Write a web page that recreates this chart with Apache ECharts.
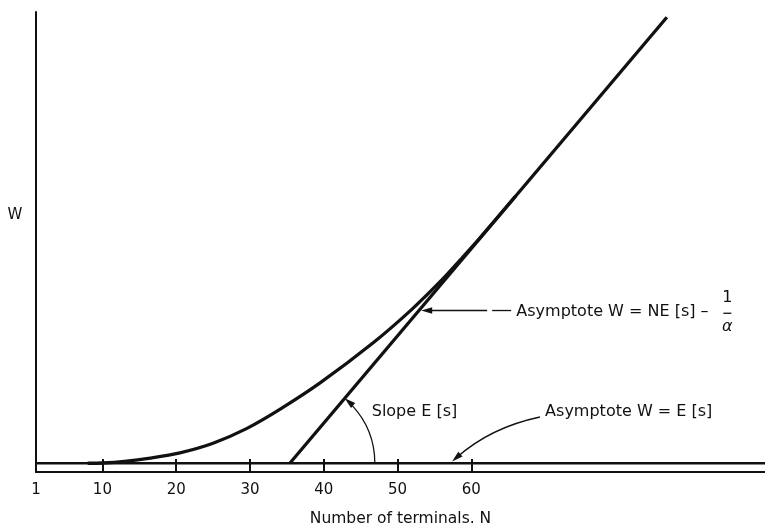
<!DOCTYPE html>
<html>
<head>
<meta charset="utf-8">
<script src="https://cdn.jsdelivr.net/npm/echarts@6/dist/echarts.min.js"></script>
<style>
html,body{margin:0;padding:0;background:#fff;}
#chart{width:765px;height:528px;}
</style>
</head>
<body>
<div id="chart"></div>
<script>
// ---- data (N = number of terminals, W in units of E[s]) ----
var tickLabels = [1, 10, 20, 30, 40, 50, 60];
var tickMarks = [10, 20, 30, 40, 50, 60];
// response-time curve W(N)
var curveN = [8, 10, 13, 16.5, 20.5, 25, 29.6, 34.1, 39.5, 46.7, 51.9, 56, 58.5, 61, 66];
var curveW = [1, 1.03, 1.22, 1.6, 2.2, 3.3, 5.0, 7.2, 10.2, 14.8, 18.6, 22.0, 24.3, 26.65, 31.6];
// asymptote W = N E[s] - 1/alpha  (E[s]=1, 1/alpha = 34.4)
var slantN = [35.4, 86.5];
var slantW = [1, 52.1];
// asymptote W = E[s]
var flatN = [1, 99.8];
var flatW = [1, 1];

// annotation anchors (data coordinates)
var noteW = [-1.0, 29.4];
var noteNE = {arrowTip: [53.2, 18.5], arrowTail: [65.4, 18.5], text: [66.1, 18.3]};
var noteSlope = {center: [35.4, 1], text: [46.5, 6.9]};
var noteFlat = {text: [70.0, 6.9], start: [69.3, 6.3], ctrl: [62.6, 5.1], tip: [57.4, 1.2]};

function pairs(a, b) { return a.map(function (v, i) { return [v, b[i]]; }); }

var FONT = 'DejaVu Sans';
var chart = echarts.init(document.getElementById('chart'), null, {renderer: 'canvas'});
chart.setOption({
  animation: false,
  backgroundColor: '#ffffff',
  grid: {left: 36, right: 0, top: 12, bottom: 56, containLabel: false, outerBoundsMode: 'none'},
  xAxis: {
    type: 'value', min: 1, max: 99.8,
    name: 'Number of terminals. N', nameLocation: 'middle', nameGap: 39,
    nameTextStyle: {fontFamily: FONT, fontSize: 15.5, color: '#111', verticalAlign: 'top'},
    axisLine: {show: true, lineStyle: {color: '#111', width: 2}},
    axisTick: {show: true, inside: true, length: 13, customValues: tickMarks, lineStyle: {color: '#111', width: 2}},
    axisLabel: {show: true, customValues: tickLabels, margin: 11, fontFamily: FONT, fontSize: 15, color: '#111'},
    splitLine: {show: false}
  },
  yAxis: {
    type: 'value', min: 0, max: 52.7,
    axisLine: {show: true, lineStyle: {color: '#111', width: 2}},
    axisTick: {show: false}, axisLabel: {show: false}, splitLine: {show: false}
  },
  series: [
    {type: 'line', data: pairs(flatN, flatW), symbol: 'none', lineStyle: {color: '#111', width: 2.5}},
    {type: 'line', data: pairs(slantN, slantW), symbol: 'none', lineStyle: {color: '#111', width: 3.3}},
    {type: 'line', data: pairs(curveN, curveW), symbol: 'none', smooth: 0.3, lineStyle: {color: '#111', width: 3.3}}
  ]
});

function px(p) { return chart.convertToPixel({gridIndex: 0}, p); }
function arrowHead(tip, dx, dy, len, half) {
  var l = Math.sqrt(dx * dx + dy * dy); dx /= l; dy /= l;
  var bx = tip[0] - dx * len, by = tip[1] - dy * len;
  return {type: 'polygon', shape: {points: [tip, [bx - dy * half, by + dx * half], [bx + dy * half, by - dx * half]]},
          style: {fill: '#111'}, z: 10};
}
var g = [];
var txtStyle = {fontFamily: FONT, fontSize: 16, fill: '#111'};

// axis name W
var wp = px(noteW);
g.push({type: 'text', x: 15, y: wp[1], style: {text: 'W', fontFamily: FONT, fontSize: 15, fill: '#111', align: 'center', verticalAlign: 'middle'}});

// Asymptote W = NE[s] - 1/alpha
var t1 = px(noteNE.arrowTip), t2 = px(noteNE.arrowTail), tx = px(noteNE.text);
g.push({type: 'line', shape: {x1: t1[0] + 6, y1: t1[1], x2: t2[0] - 24, y2: t1[1]}, style: {stroke: '#111', lineWidth: 1.3}});
g.push({type: 'line', shape: {x1: t2[0] - 19, y1: t1[1], x2: t2[0], y2: t1[1]}, style: {stroke: '#111', lineWidth: 1.3}});
g.push(arrowHead(t1, -1, 0, 11, 3.2));
g.push({type: 'text', x: tx[0], y: tx[1], style: Object.assign({text: 'Asymptote W = NE [s] \u2013', verticalAlign: 'middle', align: 'left'}, txtStyle)});
var fracX = tx[0] + 211;
g.push({type: 'text', x: fracX, y: tx[1] - 14, style: Object.assign({text: '1', align: 'center', verticalAlign: 'middle'}, txtStyle)});
g.push({type: 'line', shape: {x1: fracX - 4, y1: tx[1] + 1, x2: fracX + 4, y2: tx[1] + 1}, style: {stroke: '#111', lineWidth: 1.3}});
g.push({type: 'text', x: fracX, y: tx[1] + 15, style: Object.assign({text: '\u03b1', align: 'center', verticalAlign: 'middle', fontStyle: 'italic'}, txtStyle)});

// Slope E[s]
var c = px(noteSlope.center);
var r = 85, ang = Math.atan(1.183);
g.push({type: 'arc', shape: {cx: c[0], cy: c[1], r: r, startAngle: -ang + 0.12, endAngle: 0, clockwise: true},
        style: {stroke: '#111', lineWidth: 1.3, fill: null}});
var tipS = [c[0] + r * Math.cos(ang), c[1] - r * Math.sin(ang)];
g.push(arrowHead(tipS, -Math.sin(ang), -Math.cos(ang), 11, 3.2));
var st = px(noteSlope.text);
g.push({type: 'text', x: st[0], y: st[1], style: Object.assign({text: 'Slope E [s]', verticalAlign: 'middle', align: 'left'}, txtStyle)});

// Asymptote W = E[s]
var ft = px(noteFlat.text), fs = px(noteFlat.start), fc = px(noteFlat.ctrl), fe = px(noteFlat.tip);
g.push({type: 'text', x: ft[0], y: ft[1], style: Object.assign({text: 'Asymptote W = E [s]', verticalAlign: 'middle', align: 'left'}, txtStyle)});
var dx = fe[0] - fc[0], dy = fe[1] - fc[1], dl = Math.sqrt(dx * dx + dy * dy);
g.push({type: 'bezierCurve', shape: {x1: fs[0], y1: fs[1], cpx1: fc[0], cpy1: fc[1], x2: fe[0] - dx / dl * 6, y2: fe[1] - dy / dl * 6},
        style: {stroke: '#111', lineWidth: 1.3, fill: null}});
g.push(arrowHead(fe, dx, dy, 11, 3.2));

chart.setOption({graphic: g});
</script>
</body>
</html>
